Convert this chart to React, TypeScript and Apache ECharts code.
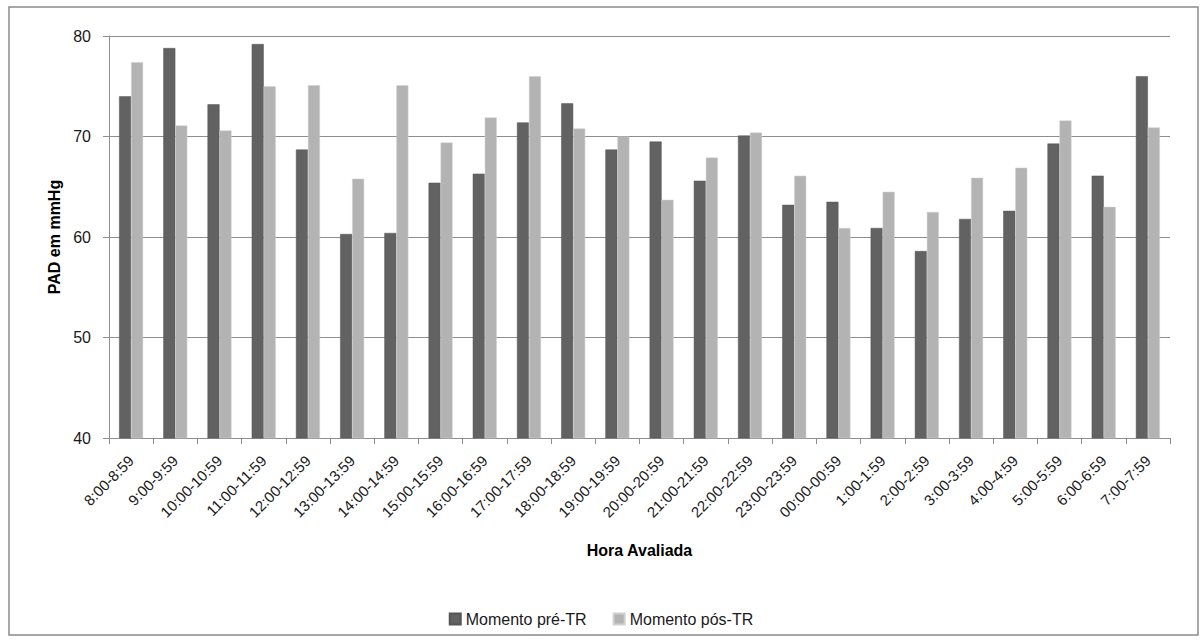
import React, { useEffect, useRef } from "react";
import * as echarts from "echarts";

// Hourly time slots
const categories = [
  "8:00-8:59", "9:00-9:59", "10:00-10:59", "11:00-11:59", "12:00-12:59",
  "13:00-13:59", "14:00-14:59", "15:00-15:59", "16:00-16:59", "17:00-17:59",
  "18:00-18:59", "19:00-19:59", "20:00-20:59", "21:00-21:59", "22:00-22:59",
  "23:00-23:59", "00:00-00:59", "1:00-1:59", "2:00-2:59", "3:00-3:59",
  "4:00-4:59", "5:00-5:59", "6:00-6:59", "7:00-7:59",
];

// Mean diastolic pressure (mmHg) before and after TR
const preTR = [
  74.0, 78.8, 73.2, 79.2, 68.7, 60.3, 60.4, 65.4, 66.3, 71.4, 73.3, 68.7,
  69.5, 65.6, 70.1, 63.2, 63.5, 60.9, 58.6, 61.8, 62.6, 69.3, 66.1, 76.0,
];
const postTR = [
  77.4, 71.1, 70.6, 75.0, 75.1, 65.8, 75.1, 69.4, 71.9, 76.0, 70.8, 70.0,
  63.7, 67.9, 70.4, 66.1, 60.9, 64.5, 62.5, 65.9, 66.9, 71.6, 63.0, 70.9,
];

const seriesNames = ["Momento pré-TR", "Momento pós-TR"];
const yTicks = { min: 40, max: 80, interval: 10 };

const FONT = "'Liberation Sans', Arial, sans-serif";
const AXIS_GREY = "#8e8e8e";

export default function App() {
  const ref = useRef<HTMLDivElement>(null);

  useEffect(() => {
    if (!ref.current) return;
    const chart = echarts.init(ref.current, undefined, { renderer: "svg" });
    chart.setOption({
      animation: false,
      backgroundColor: "#ffffff",
      textStyle: { fontFamily: FONT, color: "#1a1a1a" },
      grid: { left: 109, right: 32, top: 36, bottom: 204 },
      graphic: [
        {
          type: "rect",
          shape: { x: 9, y: 7, width: 1189, height: 628 },
          style: { fill: "none", stroke: "#8a8a8a", lineWidth: 1.5 },
          silent: true,
        },
      ],
      legend: {
        data: seriesNames,
        left: "center",
        top: 606,
        itemWidth: 11,
        itemHeight: 11,
        itemGap: 26,
        icon: "rect",
        textStyle: { fontFamily: FONT, fontSize: 16, color: "#1a1a1a" },
      },
      xAxis: {
        type: "category",
        data: categories,
        boundaryGap: true,
        name: "Hora Avaliada",
        nameLocation: "middle",
        nameGap: 104,
        nameTextStyle: { fontFamily: FONT, fontSize: 16, fontWeight: "bold", color: "#000" },
        axisLine: { show: true, lineStyle: { color: AXIS_GREY, width: 1 } },
        axisTick: { show: true, length: 6, interval: 0, lineStyle: { color: AXIS_GREY } },
        axisLabel: {
          interval: 0,
          rotate: 45,
          margin: 20,
          fontSize: 15,
          fontFamily: FONT,
          color: "#1a1a1a",
        },
        splitLine: { show: false },
      },
      yAxis: {
        type: "value",
        min: yTicks.min,
        max: yTicks.max,
        interval: yTicks.interval,
        name: "PAD em mmHg",
        nameLocation: "middle",
        nameGap: 45,
        nameTextStyle: { fontFamily: FONT, fontSize: 16, fontWeight: "bold", color: "#000" },
        axisLine: { show: true, lineStyle: { color: AXIS_GREY, width: 1 } },
        axisTick: { show: true, length: 6, lineStyle: { color: AXIS_GREY } },
        axisLabel: { margin: 18, fontSize: 16, fontFamily: FONT, color: "#1a1a1a" },
        splitLine: { show: true, lineStyle: { color: AXIS_GREY, width: 1 } },
      },
      series: [
        {
          name: seriesNames[0],
          type: "bar",
          data: preTR,
          barWidth: 12,
          barGap: "0%",
          itemStyle: { color: "#626262", borderColor: "#555555", borderWidth: 0.5 },
        },
        {
          name: seriesNames[1],
          type: "bar",
          data: postTR,
          barWidth: 12,
          barGap: "0%",
          itemStyle: { color: "#b3b3b3", borderColor: "#d0d0d0", borderWidth: 0.5 },
        },
      ],
    });
    return () => chart.dispose();
  }, []);

  return (
    <div
      ref={ref}
      style={{ position: "fixed", left: 0, top: 0, width: 1202, height: 642 }}
    />
  );
}
